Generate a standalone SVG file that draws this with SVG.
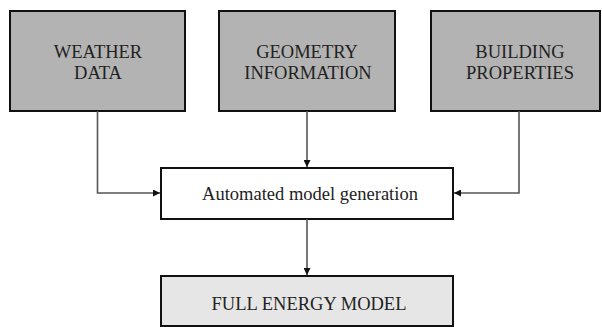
<svg xmlns="http://www.w3.org/2000/svg" width="602" height="327" viewBox="0 0 602 327">
<style>
.box{stroke:#111;stroke-width:2}
.src{fill:#b3b3b3}
.t{font-family:"Liberation Serif","Times New Roman",serif;font-size:18.5px;fill:#222;text-anchor:middle}
.c{fill:none;stroke:#555;stroke-width:1.6}
</style>
<defs>
<marker id="ah" viewBox="0 0 10 10" refX="10" refY="5" markerWidth="7" markerHeight="7" markerUnits="userSpaceOnUse" orient="auto">
<path d="M0,0 L10,5 L0,10 z" fill="#111"/>
</marker>
</defs>
<g id="weather"><rect class="box src" x="10" y="11" width="175" height="100"/><text class="t" x="98" y="58">WEATHER</text><text class="t" x="98" y="79">DATA</text></g>
<g id="geometry"><rect class="box src" x="219" y="11" width="176" height="100"/><text class="t" x="307" y="58">GEOMETRY</text><text class="t" x="308" y="79">INFORMATION</text></g>
<g id="building"><rect class="box src" x="431" y="11" width="169" height="100"/><text class="t" x="520" y="58">BUILDING</text><text class="t" x="520" y="79">PROPERTIES</text></g>
<g id="automated"><rect class="box" fill="#fff" x="161" y="168" width="292" height="51"/><text class="t" x="310" y="200">Automated model generation</text></g>
<g id="full"><rect class="box" fill="#e6e6e6" x="161" y="276" width="292" height="50"/><text class="t" x="309" y="310">FULL ENERGY MODEL</text></g>
<g id="connectors">
<path class="c" d="M97.5,111 V193 H160" marker-end="url(#ah)"/>
<path class="c" d="M307,111 V167" marker-end="url(#ah)"/>
<path class="c" d="M519,111 V193 H454" marker-end="url(#ah)"/>
<path class="c" d="M307,219 V275" marker-end="url(#ah)"/>
</g>
</svg>
